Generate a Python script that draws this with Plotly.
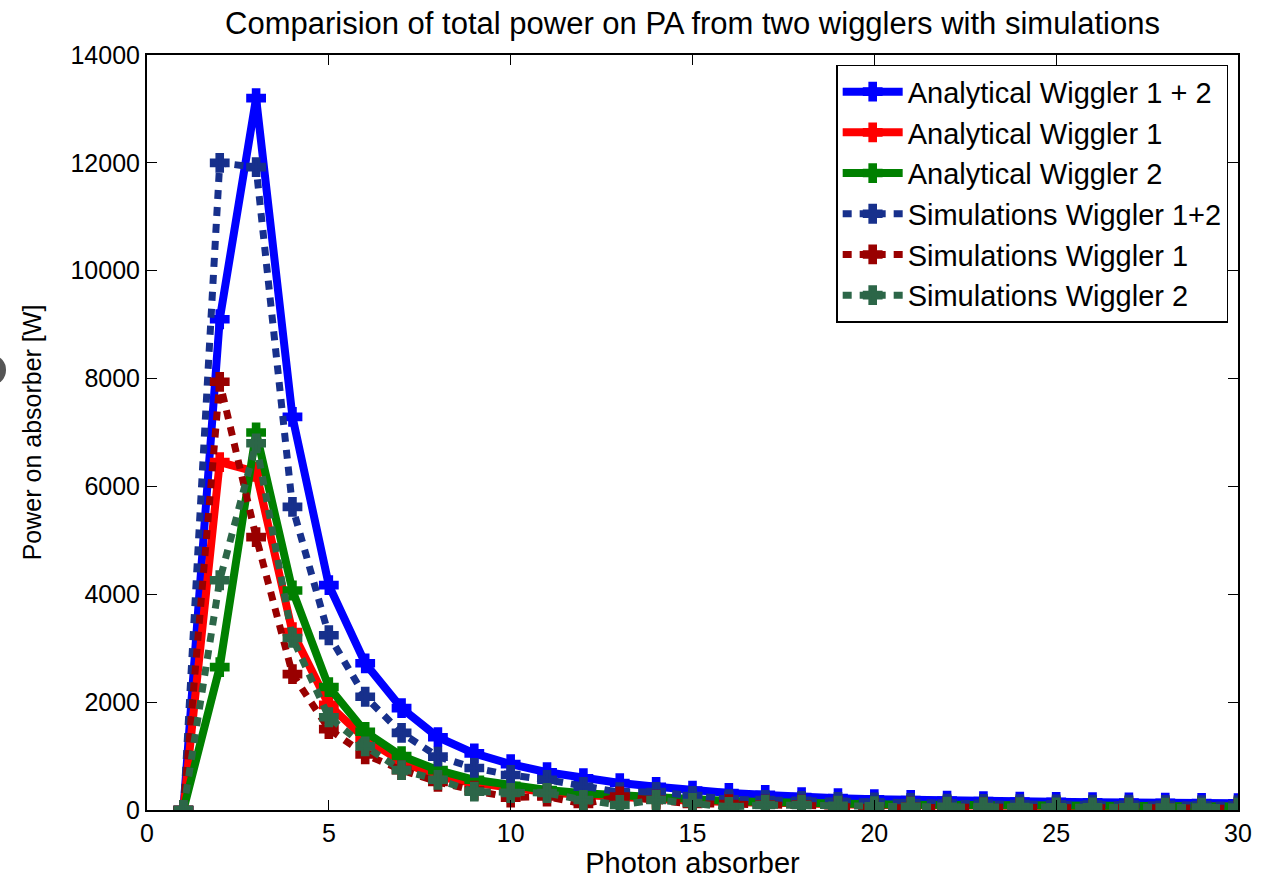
import plotly.graph_objects as go

absorber = list(range(1, 31))

analytical_w12 = [0, 9100, 13200, 7290, 4170, 2720, 1890, 1350, 1050, 850,
                  700, 590, 500, 430, 360, 315, 280, 240, 220, 200,
                  185, 175, 165, 155, 150, 145, 140, 135, 130, 125]
analytical_w1 = [0, 6450, 6270, 3300, 1950, 1320, 900, 620, 500, 400,
                 330, 280, 235, 200, 170, 150, 130, 115, 105, 95,
                 88, 82, 78, 74, 70, 68, 66, 64, 62, 60]
analytical_w2 = [0, 2650, 7000, 4070, 2280, 1450, 1000, 740, 560, 450,
                 370, 310, 265, 230, 190, 165, 150, 125, 115, 105,
                 97, 93, 87, 81, 80, 77, 74, 71, 68, 65]
sim_w12 = [0, 12000, 11920, 5620, 3240, 2100, 1430, 990, 780, 650,
           560, 430, 330, 335, 260, 200, 185, 170, 150, 140,
           130, 120, 115, 110, 105, 100, 100, 95, 90, 90]
sim_w1 = [0, 7940, 5060, 2520, 1500, 1030, 740, 520, 360, 230,
          250, 110, 250, 190, 110, 110, 100, 100, 70, 40,
          60, 50, 50, 40, 40, 30, 40, 40, 30, 30]
sim_w2 = [0, 4260, 6800, 3190, 1720, 1180, 740, 560, 340, 315,
          315, 185, 93, 185, 130, 56, 93, 93, 80, 70,
          60, 60, 55, 55, 50, 50, 50, 45, 45, 45]

series = [
    ("Analytical Wiggler 1 + 2", analytical_w12, "#0000FF", "solid", 8),
    ("Analytical Wiggler 1", analytical_w1, "#FF0000", "solid", 8),
    ("Analytical Wiggler 2", analytical_w2, "#008000", "solid", 8),
    ("Simulations Wiggler 1+2", sim_w12, "#17308C", "9px,8px", 7),
    ("Simulations Wiggler 1", sim_w1, "#990000", "9px,8px", 7),
    ("Simulations Wiggler 2", sim_w2, "#2C6648", "9px,8px", 7),
]

FONT = "Liberation Sans, Arial, Helvetica, sans-serif"

fig = go.Figure()
for i, (name, vals, col, dash, lw) in enumerate(series):
    fig.add_trace(go.Scatter(
        x=absorber, y=vals, name=name, mode="lines+markers",
        line=dict(color=col, width=lw, dash=dash),
        marker=dict(symbol="cross", size=14, color=col,
                    line=dict(width=3, color=col)),
    ))

fig.update_layout(
    width=1270, height=881,
    margin=dict(l=147, r=32, t=55, b=71),
    paper_bgcolor="white", plot_bgcolor="white",
    font=dict(family=FONT, size=24, color="black"),
    title=dict(text="Comparision of total power on PA from two wigglers with simulations",
               xref="paper", x=0.5, xanchor="center", y=0.974, yanchor="middle",
               font=dict(size=31)),
    showlegend=True,
    legend=dict(x=0.991, y=0.987, xanchor="right", yanchor="top",
                bgcolor="white", bordercolor="black", borderwidth=1.5,
                font=dict(size=29), itemwidth=60, tracegroupgap=0),
    xaxis=dict(range=[0, 30], tickvals=[0, 5, 10, 15, 20, 25, 30],
               showgrid=False, zeroline=False, showline=True, linecolor="black",
               linewidth=2, mirror="ticks", ticks="inside", ticklen=10,
               tickcolor="black", tickfont=dict(size=25),
               title=dict(text="Photon absorber", standoff=2, font=dict(size=29))),
    yaxis=dict(range=[0, 14000], tickvals=list(range(0, 14001, 2000)),
               tickformat="d",
               showgrid=False, zeroline=False, showline=True, linecolor="black",
               linewidth=2, mirror="ticks", ticks="inside", ticklen=10,
               tickcolor="black", tickfont=dict(size=25),
               title=dict(text="Power on absorber [W]", standoff=22, font=dict(size=25))),
)

# partial dark blob at the left edge of the reference image
fig.add_shape(type="circle", xref="paper", yref="paper",
              x0=(-18 - 147) / 1091, x1=(6 - 147) / 1091,
              y0=(810 - 384) / 755, y1=(810 - 356) / 755,
              fillcolor="#555555", line=dict(width=0), layer="above")

fig.write_html("out.html")
